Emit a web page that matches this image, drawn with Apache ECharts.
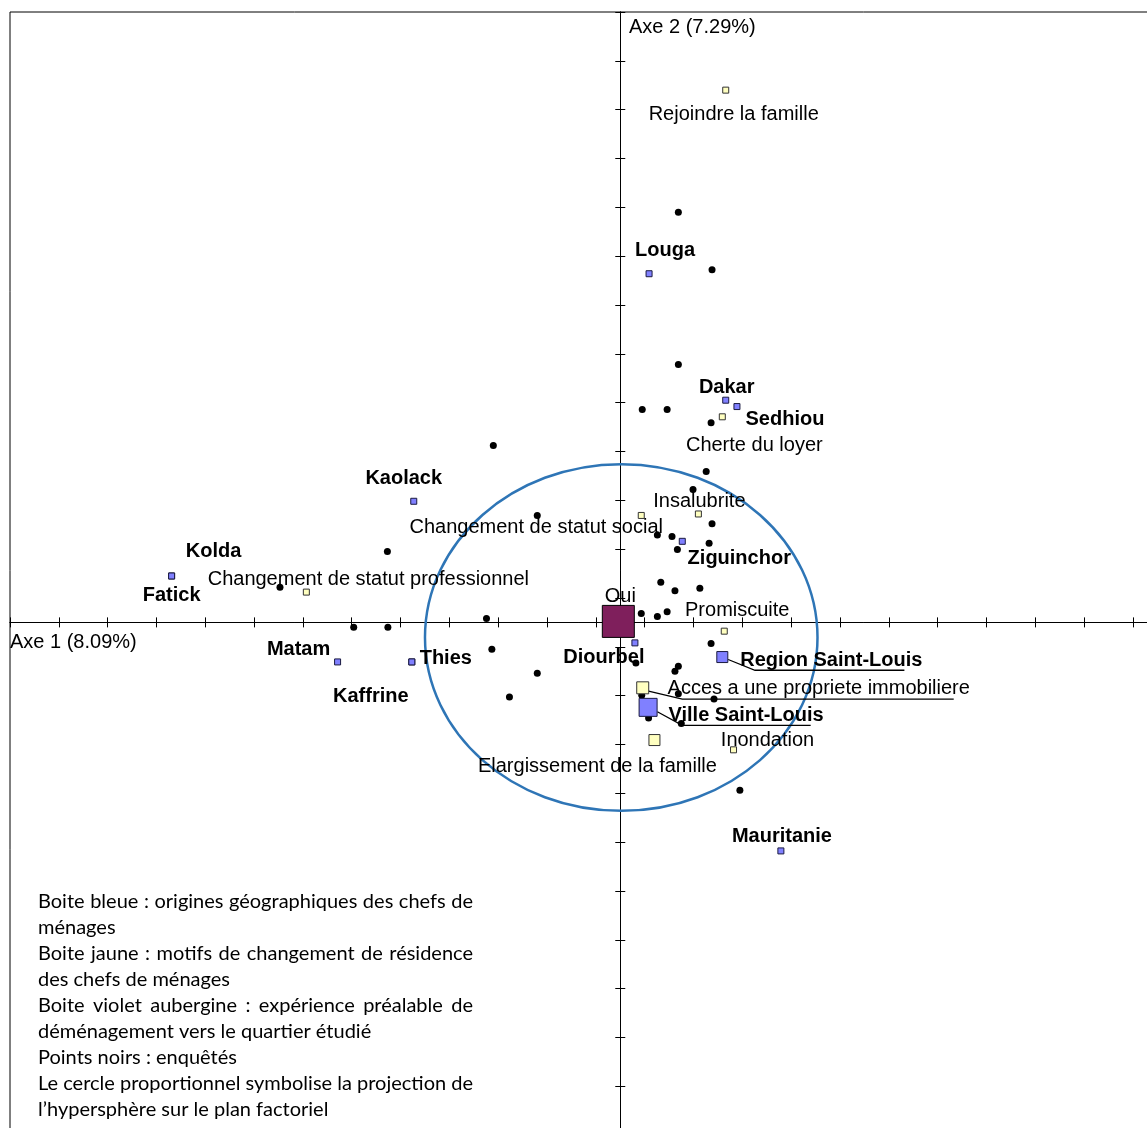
<!DOCTYPE html>
<html>
<head>
<meta charset="utf-8">
<title>Plan factoriel</title>
<script src="https://cdn.jsdelivr.net/npm/echarts@6/dist/echarts.min.js"></script>
<style>
  html, body { margin: 0; padding: 0; background: #fff; }
  #chart { width: 1147px; height: 1128px; }
</style>
</head>
<body>
<div id="chart"></div>
<script>
// coordonnées sur le plan factoriel (unité = une graduation)
const surveyed = [
  [1.19, 8.40], [1.88, 7.22], [1.19, 5.28], [0.45, 4.36], [0.96, 4.36],
  [1.86, 4.09], [1.76, 3.09], [1.49, 2.72], [1.88, 2.02], [0.76, 1.79],
  [1.06, 1.76], [1.17, 1.49], [1.82, 1.62], [0.83, 0.82], [1.12, 0.65],
  [1.63, 0.70], [0.43, 0.18], [0.76, 0.12], [0.96, 0.22], [1.86, -0.43],
  [1.19, -0.90], [1.12, -1.00], [0.32, -0.83], [0.44, -1.49], [0.58, -1.96],
  [1.19, -1.46], [1.92, -1.57], [1.25, -2.07], [2.45, -3.44], [-2.27, -1.53],
  [-5.46, -0.10], [-4.76, -0.10], [-2.74, 0.08], [-2.63, -0.55], [-1.70, -1.04],
  [-2.60, 3.62], [-1.70, 2.19], [-4.77, 1.45], [-6.97, 0.72]
];

// boites bleues : origines geographiques
const originBoxes = [
  ['Louga', 0.59, 7.14],
  ['Dakar', 2.16, 4.55],
  ['Sedhiou', 2.39, 4.42],
  ['Ziguinchor', 1.27, 1.66],
  ['Diourbel', 0.30, -0.42],
  ['Kaolack', -4.23, 2.48],
  ['Kolda', -9.19, 0.95],
  ['Fatick', -9.19, 0.95],
  ['Matam', -5.79, -0.81],
  ['Thies', -4.27, -0.81],
  ['Kaffrine', -4.27, -0.81],
  ['Mauritanie', 3.29, -4.68],
  ['Region Saint-Louis', 2.09, -0.71],
  ['Ville Saint-Louis', 0.57, -1.74]
];

// boites jaunes : motifs de changement de residence
const motiveBoxes = [
  ['Rejoindre la famille', 2.16, 10.90],
  ['Cherte du loyer', 2.09, 4.21],
  ['Insalubrite', 1.60, 2.22],
  ['Changement de statut social', 0.43, 2.19],
  ['Changement de statut professionnel', -6.43, 0.62],
  ['Promiscuite', 2.13, -0.18],
  ['Acces a une propriete immobiliere', 0.46, -1.34],
  ['Elargissement de la famille', 0.70, -2.41],
  ['Inondation', 2.32, -2.61]
];

// boite violet aubergine : experience prealable
const experienceBoxes = [['Oui', -0.04, 0.02]];

// cercle : projection de l'hypersphere [cx, cy, rx, ry]
const hypersphere = [[0.02, -0.31, 4.02, 3.55]];

// traits de rappel des etiquettes
const leaders = [
  [[2.21, -0.76], [2.76, -0.98], [5.82, -0.98]],
  [[0.58, -1.41], [1.27, -1.57], [6.83, -1.57]],
  [[0.76, -1.83], [1.27, -2.11], [3.90, -2.11]]
];

const axisTitles = ['Axe 1 (8.09%)', 'Axe 2 (7.29%)'];

const noteLines = [
  'Boite bleue : origines géographiques des chefs de',
  'ménages',
  'Boite jaune : motifs de changement de résidence',
  'des chefs de ménages',
  'Boite violet aubergine : expérience préalable de',
  'déménagement vers le quartier étudié',
  'Points noirs : enquêtés',
  'Le cercle proportionnel symbolise la projection de',
  'l’hypersphère sur le plan factoriel'
];

// ---- styles ----
const labelFont = 'Liberation Sans';
const labelOffset = {
  'Louga': [16, -23], 'Dakar': [1, -13], 'Sedhiou': [48, 13], 'Ziguinchor': [57, 17],
  'Diourbel': [-31, 15], 'Kaolack': [-10, -23], 'Kolda': [42, -25], 'Fatick': [0, 19],
  'Matam': [-39, -12], 'Thies': [34, -3], 'Kaffrine': [-41, 35], 'Mauritanie': [1, -14],
  'Region Saint-Louis': [109, 3], 'Ville Saint-Louis': [98, 8],
  'Rejoindre la famille': [8, 24], 'Cherte du loyer': [32, 29], 'Insalubrite': [1, -12],
  'Changement de statut social': [-105, 12], 'Changement de statut professionnel': [62, -13],
  'Promiscuite': [13, -21], 'Acces a une propriete immobiliere': [176, 1],
  'Elargissement de la famille': [-57, 26], 'Inondation': [34, -9], 'Oui': [2, -25]
};
const boxSize = {
  'Region Saint-Louis': 11, 'Ville Saint-Louis': 18,
  'Acces a une propriete immobiliere': 12, 'Elargissement de la famille': 11, 'Oui': 32
};

function boxItems(list, bold) {
  return list.map(([name, x, y]) => ({
    name: name,
    value: [x, y],
    symbolSize: boxSize[name] || 6,
    label: {
      show: true,
      formatter: name,
      position: 'inside',
      offset: labelOffset[name],
      align: 'center',
      verticalAlign: 'middle',
      color: '#000',
      textBorderWidth: 0,
      textBorderColor: 'transparent',
      fontFamily: labelFont,
      fontSize: 20,
      fontWeight: bold ? 'bold' : 'normal'
    }
  }));
}

const axisBase = {
  type: 'value',
  interval: 1,
  axisLine: { onZero: true, lineStyle: { color: '#000', width: 1 } },
  axisTick: { show: true, length: 5, lineStyle: { color: '#000', width: 1 } },
  axisLabel: { show: false },
  splitLine: { show: false }
};

// texte de la note, justifie comme dans l'original
const noteFont = '20px Lato';
const noteJustify = [true, false, true, false, true, false, false, true, false];
const noteLeft = 38, noteRight = 473, noteTop = 902, noteStep = 26;
const measure = document.createElement('canvas').getContext('2d');
measure.font = noteFont;

function noteGraphics() {
  const els = [];
  noteLines.forEach((line, i) => {
    const y = noteTop + i * noteStep;
    const words = line.split(' ');
    if (!noteJustify[i] || words.length < 2) {
      els.push({ type: 'text', x: noteLeft, y: y,
        style: { text: line, font: noteFont, fill: '#000', textVerticalAlign: 'middle', verticalAlign: 'middle' } });
      return;
    }
    const widths = words.map(w => measure.measureText(w).width);
    const total = widths.reduce((a, b) => a + b, 0);
    const gap = (noteRight - noteLeft - total) / (words.length - 1);
    let x = noteLeft;
    words.forEach((w, k) => {
      els.push({ type: 'text', x: x, y: y,
        style: { text: w, font: noteFont, fill: '#000', textVerticalAlign: 'middle', verticalAlign: 'middle' } });
      x += widths[k] + gap;
    });
  });
  return els;
}

const chart = echarts.init(document.getElementById('chart'), null, { renderer: 'canvas' });

chart.setOption({
  animation: false,
  backgroundColor: '#fff',
  grid: {
    left: 10, top: 12, right: -2, bottom: -7.1,
    show: true, borderColor: '#000', borderWidth: 1,
    containLabel: false, outerBoundsMode: 'none'
  },
  xAxis: [
    Object.assign({}, axisBase, { min: -12.5, max: 10.83, position: 'bottom' }),
    Object.assign({}, axisBase, { min: -12.5, max: 10.83, position: 'top' })
  ],
  yAxis: [
    Object.assign({}, axisBase, { min: -10.5, max: 12.5, position: 'left' }),
    Object.assign({}, axisBase, { min: -10.5, max: 12.5, position: 'right' })
  ],
  graphic: [
    { type: 'text', x: 10, y: 642,
      style: { text: axisTitles[0], font: '20px "Liberation Sans"', fill: '#000', textVerticalAlign: 'middle', verticalAlign: 'middle' } },
    { type: 'text', x: 629, y: 27,
      style: { text: axisTitles[1], font: '20px "Liberation Sans"', fill: '#000', textVerticalAlign: 'middle', verticalAlign: 'middle' } }
  ].concat(noteGraphics()),
  series: [
    {
      type: 'custom',
      coordinateSystem: 'cartesian2d',
      silent: true,
      z: 1,
      data: hypersphere,
      encode: { x: 0, y: 1 },
      renderItem(params, api) {
        const c = api.coord([api.value(0), api.value(1)]);
        const s = api.size([api.value(2), api.value(3)]);
        return {
          type: 'ellipse',
          shape: { cx: c[0], cy: c[1], rx: s[0], ry: s[1] },
          style: { fill: 'none', stroke: '#2e75b6', lineWidth: 2.5 }
        };
      }
    },
    {
      type: 'lines',
      coordinateSystem: 'cartesian2d',
      polyline: true,
      silent: true,
      z: 3,
      data: leaders.map(c => ({ coords: c })),
      lineStyle: { color: '#000', width: 1.3, opacity: 1 }
    },
    {
      type: 'scatter',
      z: 4,
      symbol: 'circle',
      symbolSize: 7,
      itemStyle: { color: '#000', opacity: 1 },
      data: surveyed
    },
    {
      type: 'scatter',
      z: 5,
      symbol: 'rect',
      itemStyle: { color: '#8080ff', borderColor: '#1a1a40', borderWidth: 1, opacity: 1 },
      data: boxItems(originBoxes, true)
    },
    {
      type: 'scatter',
      z: 5,
      symbol: 'rect',
      itemStyle: { color: '#ffffc0', borderColor: '#333', borderWidth: 1, opacity: 1 },
      data: boxItems(motiveBoxes, false)
    },
    {
      type: 'scatter',
      z: 5,
      symbol: 'rect',
      itemStyle: { color: '#7f1f5c', borderColor: '#000', borderWidth: 1, opacity: 1 },
      data: boxItems(experienceBoxes, false)
    }
  ]
});
</script>
</body>
</html>
